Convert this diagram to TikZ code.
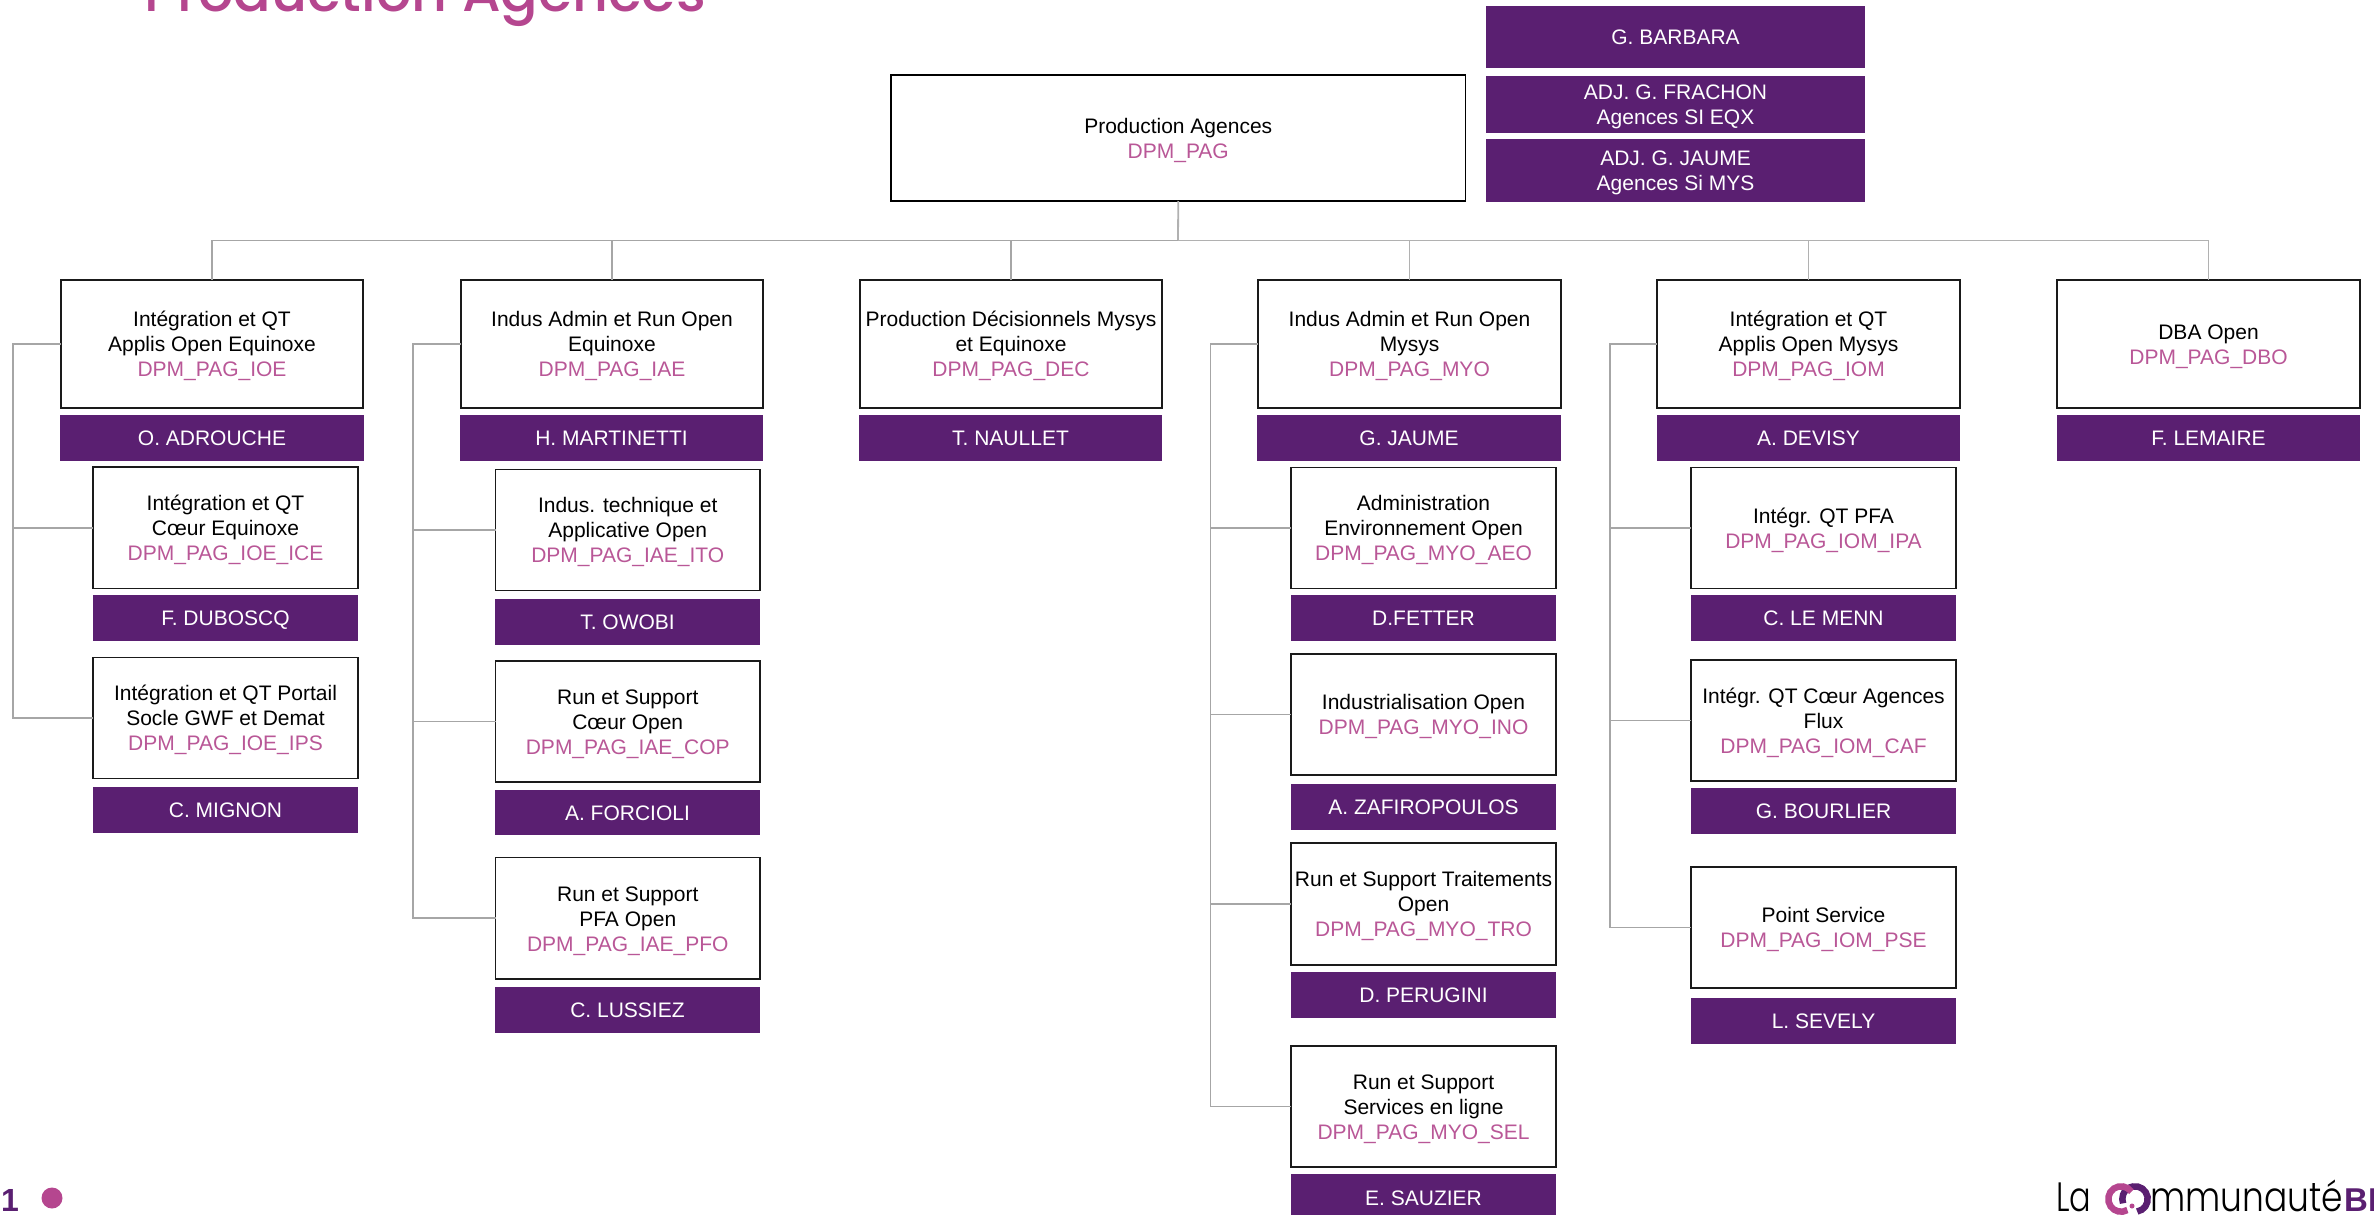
\documentclass[tikz,border=0pt]{standalone}
\usepackage{fontspec}
\setmainfont{Liberation Sans}
\newfontfamily\titlefont{Poppins Medium}
\newfontfamily\logofont{Poppins Light}[FakeStretch=0.84]
\newfontfamily\logofontb{Poppins Light}[FakeStretch=0.78]
\definecolor{purplec}{HTML}{5A1F71}
\definecolor{pinkc}{HTML}{B95797}
\definecolor{titlec}{HTML}{B5468F}
\definecolor{linec}{HTML}{A6A6A6}
\definecolor{edgec}{HTML}{1A1A1A}
\newcommand{\pcode}[1]{\textcolor{pinkc}{#1}}
\newcommand{\rnode}[7]{%
  \pgfmathsetmacro\rcx{(#3+#5)/2}\pgfmathsetmacro\rcy{(#4+#6)/2}%
  \pgfmathsetmacro\rw{#5-#3}\pgfmathsetmacro\rh{#6-#4}%
  \node[#1,minimum width=\rw pt,minimum height=\rh pt] (#2) at (\rcx,\rcy) {\rule{0pt}{21.5pt}#7\rule[-6pt]{0pt}{6pt}};}
\tikzset{
  orgbox/.style={draw=edgec,fill=white,line width=1.2pt,rectangle,inner sep=0pt,outer sep=0pt,align=center,font=\fontsize{21}{25}\selectfont,text=black},
  topbox/.style={orgbox,draw=black,line width=1.8pt},
  namebar/.style={fill=purplec,rectangle,inner sep=0pt,outer sep=0pt,align=center,font=\fontsize{21}{25}\selectfont,text=white},
  link/.style={draw=linec,line width=1.8pt},
  linklight/.style={draw=linec!88,line width=1.8pt}
}
\begin{document}
\begin{tikzpicture}[x=1pt,y=-1pt]
\useasboundingbox (0,0) rectangle (2374,1215);
\fill[white] (0,0) rectangle (2374,1215);
\node[anchor=base west,inner sep=0pt,text=titlec,font=\titlefont\fontsize{55.5}{55.5}\selectfont] (title) at (144,12) {Production Agences};

\rnode{topbox}{top}{891}{75}{1465.5}{201}{Production Agences\\\pcode{DPM\_PAG}}
\rnode{namebar}{nbar}{1486}{6}{1865}{68}{G. BARBARA}
\rnode{namebar}{nfra}{1486}{76}{1865}{133}{ADJ. G. FRACHON\\Agences SI EQX}
\rnode{namebar}{njau}{1486}{139}{1865}{202}{ADJ. G. JAUME\\Agences Si MYS}

\rnode{orgbox}{ioe}{61}{280}{363}{408}{Intégration et QT\\Applis Open Equinoxe\\\pcode{DPM\_PAG\_IOE}}
\rnode{namebar}{nioe}{60}{415}{364}{461}{O. ADROUCHE}
\rnode{orgbox}{iae}{461}{280}{763}{408}{Indus Admin et Run Open\\Equinoxe\\\pcode{DPM\_PAG\_IAE}}
\rnode{namebar}{niae}{460}{415}{763}{461}{H. MARTINETTI}
\rnode{orgbox}{dec}{860}{280}{1162}{408}{Production Décisionnels Mysys\\et Equinoxe\\\pcode{DPM\_PAG\_DEC}}
\rnode{namebar}{ndec}{859}{415}{1162}{461}{T. NAULLET}
\rnode{orgbox}{myo}{1258}{280}{1561}{408}{Indus Admin et Run Open\\Mysys\\\pcode{DPM\_PAG\_MYO}}
\rnode{namebar}{nmyo}{1257}{415}{1561}{461}{G. JAUME}
\rnode{orgbox}{iom}{1657}{280}{1960}{408}{Intégration et QT\\Applis Open Mysys\\\pcode{DPM\_PAG\_IOM}}
\rnode{namebar}{niom}{1657}{415}{1960}{461}{A. DEVISY}
\rnode{orgbox}{dbo}{2057}{280}{2360}{408}{DBA Open\\\pcode{DPM\_PAG\_DBO}}
\rnode{namebar}{ndbo}{2057}{415}{2360}{461}{F. LEMAIRE}

\rnode{orgbox}{ice}{93}{467}{358}{588.5}{Intégration et QT\\Cœur Equinoxe\\\pcode{DPM\_PAG\_IOE\_ICE}}
\rnode{namebar}{nice}{93}{595}{358}{641}{F. DUBOSCQ}
\rnode{orgbox}{ips}{93}{657.5}{358}{778.5}{Intégration et QT Portail\\Socle GWF et Demat\\\pcode{DPM\_PAG\_IOE\_IPS}}
\rnode{namebar}{nips}{93}{787}{358}{833}{C. MIGNON}

\rnode{orgbox}{ito}{495.5}{469.5}{760}{590.5}{Indus. technique et\\Applicative Open\\\pcode{DPM\_PAG\_IAE\_ITO}}
\rnode{namebar}{nito}{495}{599}{760}{645}{T. OWOBI}
\rnode{orgbox}{cop}{495.5}{661}{760}{782}{Run et Support\\Cœur Open\\\pcode{DPM\_PAG\_IAE\_COP}}
\rnode{namebar}{ncop}{495}{790}{760}{835}{A. FORCIOLI}
\rnode{orgbox}{pfo}{495.5}{857.5}{760}{979}{Run et Support\\PFA Open\\\pcode{DPM\_PAG\_IAE\_PFO}}
\rnode{namebar}{npfo}{495}{987}{760}{1033}{C. LUSSIEZ}

\rnode{orgbox}{aeo}{1291}{467.5}{1556}{588.5}{Administration\\Environnement Open\\\pcode{DPM\_PAG\_MYO\_AEO}}
\rnode{namebar}{naeo}{1291}{595}{1556}{641}{D.FETTER}
\rnode{orgbox}{ino}{1291}{654}{1556}{775}{Industrialisation Open\\\pcode{DPM\_PAG\_MYO\_INO}}
\rnode{namebar}{nino}{1291}{784}{1556}{830}{A. ZAFIROPOULOS}
\rnode{orgbox}{tro}{1291}{843}{1556}{965}{Run et Support Traitements\\Open\\\pcode{DPM\_PAG\_MYO\_TRO}}
\rnode{namebar}{ntro}{1291}{972}{1556}{1018}{D. PERUGINI}
\rnode{orgbox}{sel}{1291}{1046}{1556}{1167}{Run et Support\\Services en ligne\\\pcode{DPM\_PAG\_MYO\_SEL}}
\rnode{namebar}{nsel}{1291}{1174}{1556}{1221}{E. SAUZIER}

\rnode{orgbox}{ipa}{1691}{467.5}{1956}{588.5}{Intégr. QT PFA\\\pcode{DPM\_PAG\_IOM\_IPA}}
\rnode{namebar}{nipa}{1691}{595}{1956}{641}{C. LE MENN}
\rnode{orgbox}{caf}{1691}{660}{1956}{781}{Intégr. QT Cœur Agences\\Flux\\\pcode{DPM\_PAG\_IOM\_CAF}}
\rnode{namebar}{ncaf}{1691}{788}{1956}{834}{G. BOURLIER}
\rnode{orgbox}{pse}{1691}{867}{1956}{988}{Point Service\\\pcode{DPM\_PAG\_IOM\_PSE}}
\rnode{namebar}{npse}{1691}{998}{1956}{1044}{L. SEVELY}

% top-level connectors
\coordinate (hub) at (1178,240.5);
\draw[linklight] (top.south) -- (hub);
\draw[link] (hub) -| (ioe.north);
\draw[link] (hub) -| (iae.north);
\draw[link] (hub) -| (dec.north);
\draw[linklight] (hub) -| (myo.north);
\draw[linklight] (hub) -| (iom.north);
\draw[linklight] (hub) -| (dbo.north);

% trunks
\coordinate (ta) at (13,344);
\draw[link] (ioe.west) -- (ta) |- (ice.west);
\draw[link] (ta) |- (ips.west);
\coordinate (tb) at (413,344);
\draw[link] (iae.west) -- (tb) |- (ito.west);
\draw[link] (tb) |- (cop.west);
\draw[link] (tb) |- (pfo.west);
\coordinate (tc) at (1210.5,344);
\draw[link] (myo.west) -- (tc) |- (aeo.west);
\draw[link] (tc) |- (ino.west);
\draw[link] (tc) |- (tro.west);
\draw[link] (tc) |- (sel.west);
\coordinate (td) at (1610,344);
\draw[link] (iom.west) -- (td) |- (ipa.west);
\draw[link] (td) |- (caf.west);
\draw[link] (td) |- (pse.west);

% footer
\node[anchor=base west,inner sep=0pt,text=purplec,font=\bfseries\fontsize{32}{32}\selectfont] (pg) at (1,1211) {1};
\fill[titlec] (52,1198) circle[radius=10.5];
\node[anchor=base west,inner sep=0pt,font=\logofontb\fontsize{41}{41}\selectfont] (la) at (2056,1211) {La};
\node[anchor=base east,inner sep=0pt,font=\logofont\fontsize{41}{41}\selectfont] (mm) at (2343,1211) {mmunauté};
\node[anchor=base west,inner sep=0pt,text=purplec,font=\bfseries\fontsize{33}{33}\selectfont] (bp) at (2344,1211) {BP};
\begin{scope}[shift={(2135,1199)},y=1pt]
\draw[purplec,line width=6.5pt] (-80:12.7) arc[start angle=-80,end angle=200,radius=12.7];
\end{scope}
\begin{scope}[shift={(2121,1199)},y=1pt]
\draw[titlec,line width=6.5pt] (35:12.7) arc[start angle=35,end angle=300,radius=12.7];
\end{scope}
\fill[titlec] (2132,1206) circle[radius=2.5];
\end{tikzpicture}
\end{document}
